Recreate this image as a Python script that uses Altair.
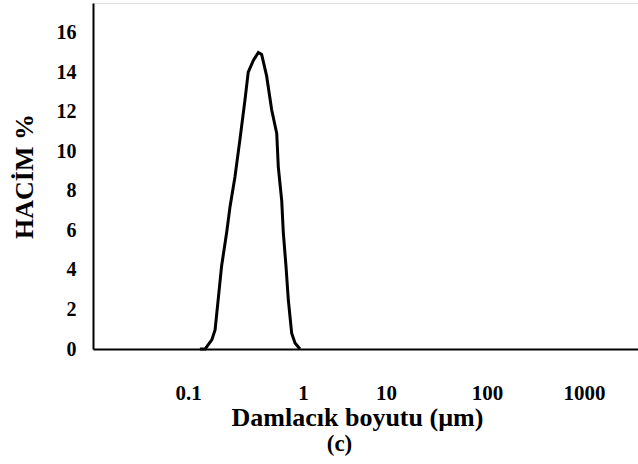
import altair as alt
import pandas as pd

# Droplet size (µm) and volume (%)
size_um = [0.127, 0.141, 0.161, 0.172, 0.183, 0.196, 0.217, 0.232, 0.256, 0.283,
           0.313, 0.334, 0.370, 0.409, 0.437, 0.483, 0.534, 0.591, 0.610, 0.653,
           0.674, 0.711, 0.745, 0.797, 0.852, 0.942]
volume_pct = [0.0, 0.0, 0.46, 0.96, 2.5, 4.2, 5.9, 7.2, 8.7, 10.6,
              12.6, 14.0, 14.6, 15.0, 14.9, 13.8, 12.1, 10.9, 9.2, 7.5,
              5.9, 4.2, 2.5, 0.8, 0.3, 0.0]

x_ticks = [0.1, 1, 10, 100, 1000]
y_ticks = [0, 2, 4, 6, 8, 10, 12, 14, 16]

df = pd.DataFrame({"size": size_um, "volume": volume_pct})

FONT = "Liberation Serif"

line = alt.Chart(df).mark_line(color="black", strokeWidth=3).encode(
    x=alt.X(
        "size:Q",
        scale=alt.Scale(
            type="log",
            domain=[0.0149, 0.1, 1, 10, 100, 1000, 3600],
            range=[0, 95, 210, 293, 394, 491, 545],
            nice=False,
        ),
        axis=alt.Axis(
            values=x_ticks,
            format="~g",
            title="Damlacık boyutu (µm)",
            titleX=264,
            ticks=False,
            tickSize=0,
            grid=False,
            domainColor="black",
            domainWidth=2,
            labelFont=FONT,
            labelFontWeight="bold",
            labelFontSize=21,
            labelColor="black",
            labelPadding=33,
            titleFont=FONT,
            titleFontWeight="bold",
            titleFontSize=26,
            titleColor="black",
            titlePadding=1,
        ),
    ),
    y=alt.Y(
        "volume:Q",
        scale=alt.Scale(domain=[0, 17.5], nice=False),
        axis=alt.Axis(
            values=y_ticks,
            title="HACİM %",
            ticks=False,
            tickSize=0,
            grid=False,
            domainColor="black",
            domainWidth=2,
            labelFont=FONT,
            labelFontWeight="bold",
            labelFontSize=20,
            labelColor="black",
            labelPadding=17,
            titleFont=FONT,
            titleFontWeight="bold",
            titleFontSize=26,
            titleColor="black",
            titlePadding=19,
        ),
    ),
)

chart = line.properties(
    width=545,
    height=346,
    autosize=alt.AutoSizeParams(type="none"),
    padding={"left": 93, "top": 3, "right": 0, "bottom": 115},
    title=alt.TitleParams(
        "(c)",
        orient="bottom",
        anchor="middle",
        dx=-26,
        offset=3,
        font=FONT,
        fontWeight="bold",
        fontSize=23,
        color="black",
    ),
).configure_view(stroke=None).configure(background="white")

chart.save("out.html", embed_options={"renderer": "svg", "actions": False})
